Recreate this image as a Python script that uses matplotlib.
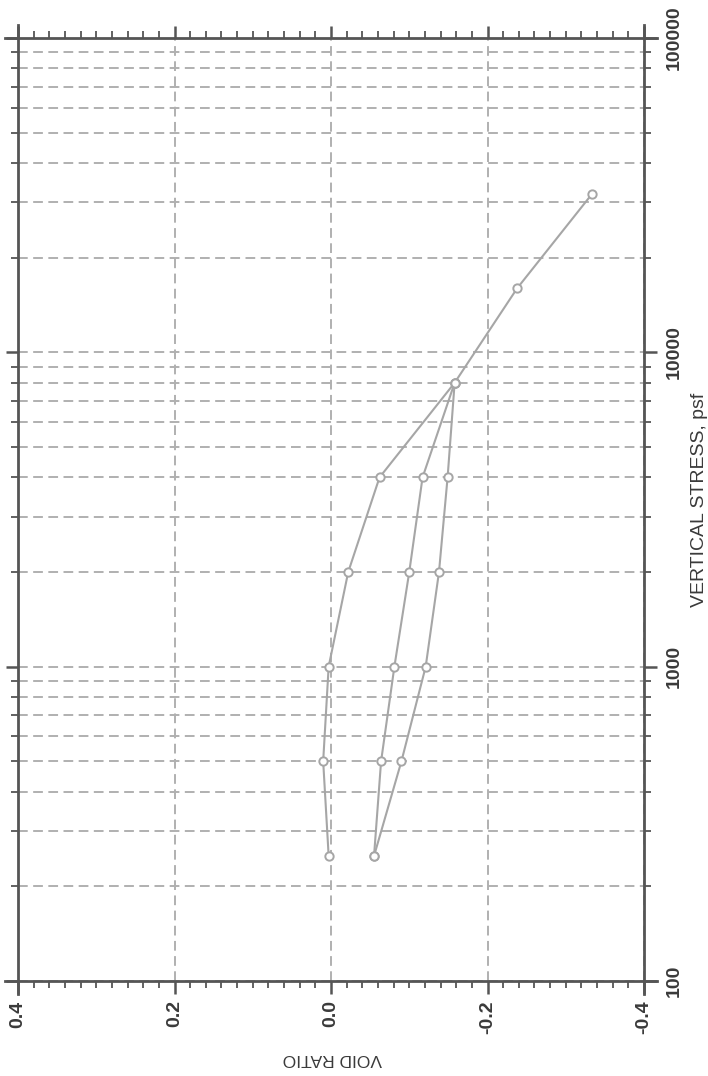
import numpy as np
import matplotlib
matplotlib.use("Agg")
import matplotlib.pyplot as plt
from matplotlib.ticker import LogLocator, MultipleLocator, FixedLocator, NullFormatter

# consolidation test, drawn rotated (stress runs up the page)
stress_load = [250, 500, 1000, 2000, 4000, 8000]
void_load = [0.003, 0.010, 0.003, -0.022, -0.062, -0.158]
stress_unload = [8000, 4000, 2000, 1000, 500, 250]
void_unload = [-0.158, -0.117, -0.100, -0.081, -0.064, -0.055]
stress_reload = [250, 500, 1000, 2000, 4000, 8000, 16000, 32000]
void_reload = [-0.055, -0.090, -0.121, -0.138, -0.149, -0.158, -0.238, -0.334]

void_ticks = [0.4, 0.2, 0.0, -0.2, -0.4]
void_ticklabels = ["0.4", "0.2", "0.0", "-0.2", "-0.4"]
stress_ticks = [100, 1000, 10000, 100000]
stress_ticklabels = ["100", "1000", "10000", "100000"]

plt.rcParams['font.family'] = ['Liberation Sans', 'DejaVu Sans']

fig = plt.figure(figsize=(7.08, 10.76), dpi=100)
ax = fig.add_axes([18/708, 95/1076, 626/708, 943/1076])

line_c = '#a6a6a6'
grid_c = '#b0b0b0'
spine_c = '#555555'
text_c = '#3a3a3a'

for v, s in [(void_load, stress_load), (void_unload, stress_unload), (void_reload, stress_reload)]:
    ax.plot(v, s, color=line_c, lw=1.5, marker='o', ms=6, mfc='white',
            mec=line_c, mew=1.4, zorder=3)

ax.set_yscale('log')
ax.set_xlim(0.4, -0.4)
ax.set_ylim(100, 100000)

ax.xaxis.set_major_locator(FixedLocator(void_ticks))
ax.set_xticklabels(void_ticklabels)
ax.xaxis.set_minor_locator(MultipleLocator(0.02))
ax.yaxis.set_major_locator(FixedLocator(stress_ticks))
ax.set_yticklabels(stress_ticklabels)
ax.yaxis.set_minor_locator(LogLocator(base=10, subs=np.arange(2, 10)))
ax.yaxis.set_minor_formatter(NullFormatter())

dash = (0, (5.0, 2.8))
ax.grid(True, which='major', axis='x', color=grid_c, lw=1.4, linestyle=dash)
ax.grid(True, which='both', axis='y', color=grid_c, lw=1.4, linestyle=dash)

ax.yaxis.tick_right()
ax.tick_params(which='both', direction='out', color=spine_c,
               top=True, bottom=True, left=True, right=True)
ax.tick_params(which='major', length=9, width=1.8)
ax.tick_params(which='minor', length=5, width=1.3)
ax.tick_params(axis='x', which='major', pad=5, labelsize=14, labelcolor=text_c)
ax.tick_params(axis='y', which='major', pad=6.5, labelsize=14, labelcolor=text_c)
for t in ax.get_xticklabels():
    t.set_rotation(90)
    t.set_fontweight('bold')
for t in ax.get_yticklabels():
    t.set_rotation(90)
    t.set_fontweight('bold')
    t.set_va('center')

for sp in ax.spines.values():
    sp.set_color(spine_c)
    sp.set_linewidth(2)
ax.spines['bottom'].set_bounds(0.4166, -0.4166)
ax.spines['top'].set_bounds(0.4166, -0.4166)
ax.spines['left'].set_bounds(91, 110000)
ax.spines['right'].set_bounds(91, 110000)

fig.text(699/708, 1 - 500/1076, "VERTICAL STRESS, psf", rotation=90,
         ha='center', va='center', fontsize=14, color=text_c)
fig.text(332/708, 1 - 1058/1076, "VOID RATIO", rotation=180,
         ha='center', va='center', fontsize=12.5, color=text_c)

fig.savefig('out.png', dpi=100)
